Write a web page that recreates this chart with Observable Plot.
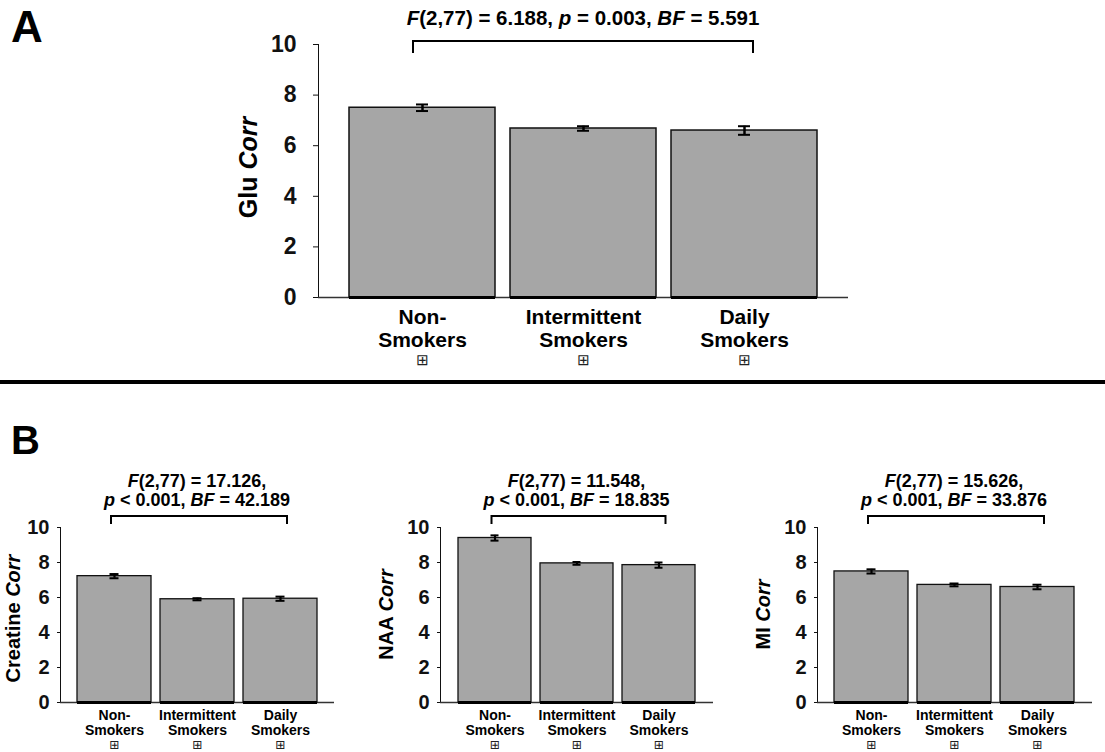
<!DOCTYPE html>
<html><head><meta charset="utf-8">
<script src="https://cdn.jsdelivr.net/npm/d3@7"></script>
<script src="https://cdn.jsdelivr.net/npm/@observablehq/plot@0.6"></script>
<style>
body{margin:0;background:#fff;}
#root{position:relative;width:1105px;height:752px;overflow:hidden;background:#fff;font-family:"Liberation Sans",Arial,Helvetica,sans-serif;}
.abs{position:absolute;}
.letter{position:absolute;font-weight:bold;color:#000;line-height:normal;}
svg text{white-space:pre;}
</style></head><body><div id="root"></div>
<script>
// ---- data ----
const groups = ["Non-Smokers", "Intermittent Smokers", "Daily Smokers"];
const groupLabels = ["Non-\nSmokers", "Intermittent\nSmokers", "Daily\nSmokers"];
const yTicks = [0, 2, 4, 6, 8, 10];
const gluMean = [7.50, 6.68, 6.60];
const gluErr  = [0.13, 0.09, 0.17];
const creMean = [7.22, 5.90, 5.93];
const creErr  = [0.12, 0.06, 0.12];
const naaMean = [9.40, 7.95, 7.85];
const naaErr  = [0.15, 0.08, 0.15];
const miMean  = [7.49, 6.72, 6.60];
const miErr   = [0.12, 0.08, 0.13];
// statistics text: [text, italic]
const gluStat = [[["F",1],["(2,77) = 6.188, ",0],["p",1],[" = 0.003, ",0],["BF",1],[" = 5.591",0]]];
const creStat = [[["F",1],["(2,77) = 17.126,",0]], [["p",1],[" < 0.001, ",0],["BF",1],[" = 42.189",0]]];
const naaStat = [[["F",1],["(2,77) = 11.548,",0]], [["p",1],[" < 0.001, ",0],["BF",1],[" = 18.835",0]]];
const miStat  = [[["F",1],["(2,77) = 15.626,",0]], [["p",1],[" < 0.001, ",0],["BF",1],[" = 33.876",0]]];
const gluTitle = [["Glu ",0],["Corr",1]];
const creTitle = [["Creatine ",0],["Corr",1]];
const naaTitle = [["NAA ",0],["Corr",1]];
const miTitle  = [["MI ",0],["Corr",1]];

const FONT = '"Liberation Sans", Arial, Helvetica, sans-serif';
const root = document.getElementById("root");

function rich(sel, segments) {
  for (const [s, it] of segments) sel.append("tspan").attr("font-style", it ? "italic" : "normal").text(s);
}

function chart(c) {
  const data = groups.map((g, i) => ({group: g, label: groupLabels[i], mean: c.mean[i], err: c.err[i]}));
  const plot = Plot.plot({
    width: c.width, height: c.height,
    marginLeft: c.ml, marginRight: c.mr, marginTop: c.mt, marginBottom: c.mb,
    style: {fontFamily: FONT, fontSize: c.tickFont + "px", fontWeight: "bold", color: "#111", background: "transparent", overflow: "visible"},
    x: {domain: groups, paddingInner: c.pi, paddingOuter: c.po, axis: null},
    y: {domain: [0, 10], ticks: yTicks, tickSize: c.tickSize, tickPadding: c.tickPadding, line: true, label: null},
    marks: [
      Plot.ruleY([0], {stroke: "#333", strokeWidth: 1.5}),
      Plot.barY(data, {x: "group", y: "mean", fill: "#a6a6a6", stroke: "#111", strokeWidth: c.barStroke}),
      Plot.tickY(data, {x: "group", y: () => 0, stroke: "#000", strokeWidth: c.barStroke + 1.5}),
      Plot.ruleX(data, {x: "group", y1: d => d.mean - d.err, y2: d => d.mean + d.err, stroke: "#000", strokeWidth: c.stem}),
      Plot.tickY(data, {x: "group", y: d => d.mean + d.err, stroke: "#000", strokeWidth: 2, insetLeft: c.capInset, insetRight: c.capInset}),
      Plot.tickY(data, {x: "group", y: d => d.mean - d.err, stroke: "#000", strokeWidth: 2, insetLeft: c.capInset, insetRight: c.capInset}),
      Plot.text(data, {x: "group", text: "label", frameAnchor: "bottom", lineAnchor: "top", dy: c.labelDy, fontSize: c.labelFont, lineHeight: c.lineHeight, fill: "#000"}),
      Plot.text(data, {x: "group", text: () => "\u229E", frameAnchor: "bottom", lineAnchor: "middle", dy: c.plusDy, fontSize: c.plusFont, fontFamily: "DejaVu Sans", fontWeight: "normal", fill: "#222"})
    ]
  });
  const svg = d3.select(plot);
  const sx = plot.scale("x"), sy = plot.scale("y");
  const center = g => sx.apply(g) + sx.bandwidth / 2;
  // significance bracket
  const x0 = center(groups[0]) - c.bl, x1 = center(groups[2]) + c.br;
  const yT = sy.apply(c.bTop), yB = sy.apply(c.bBot);
  svg.append("path").attr("d", `M${x0},${yB}V${yT}H${x1}V${yB}`)
    .attr("fill", "none").attr("stroke", "#000").attr("stroke-width", 2);
  const cx = (center(groups[0]) + center(groups[2])) / 2;
  c.stat.forEach((line, i) => {
    const t = svg.append("text").attr("x", cx).attr("y", c.statY[i]).attr("text-anchor", "middle")
      .attr("font-size", c.statFont).attr("font-weight", "bold").attr("font-family", FONT).attr("fill", "#000");
    rich(t, line);
  });
  const cy = c.mt + (c.height - c.mt - c.mb) / 2 + c.titleDy;
  const tt = svg.append("text").attr("transform", `translate(${c.ml - c.titleOff},${cy}) rotate(-90)`)
    .attr("text-anchor", "middle").attr("font-size", c.titleFont).attr("font-weight", "bold").attr("font-family", FONT).attr("fill", "#000");
  rich(tt, c.title);
  plot.style.position = "absolute";
  plot.style.left = c.left + "px";
  plot.style.top = c.top + "px";
  root.appendChild(plot);
}

// Panel A
chart({mean: gluMean, err: gluErr, stat: gluStat, title: gluTitle,
  left: 0, top: 0, width: 1105, height: 380, ml: 318, mr: 257, mt: 44, mb: 83,
  pi: 0.0926, po: 0.185,
  tickFont: 23, tickSize: 5, tickPadding: 17,
  labelFont: 21, labelDy: 10, lineHeight: 1.1, plusFont: 15, plusDy: 63,
  barStroke: 1.5, stem: 2.5, capInset: 67,
  bTop: 10.12, bBot: 9.64, bl: 9, br: 9,
  statFont: 20.5, statY: [25], titleFont: 25, titleOff: 61, titleDy: -3});

const bCommon = {top: 390, height: 362, mt: 137, mb: 50, pi: 0.108, po: 0.2,
  tickFont: 20, tickSize: 3, tickPadding: 8,
  labelFont: 14, labelDy: 7, lineHeight: 1.08, plusFont: 12.5, plusDy: 42,
  barStroke: 1.3, stem: 2.2, capInset: 32.5,
  bTop: 10.63, bBot: 10.17, bl: 3, br: 7,
  statFont: 18, statY: [97, 116], titleFont: 20, titleOff: 47, titleDy: 0};

chart({...bCommon, mean: creMean, err: creErr, stat: creStat, title: creTitle, left: 0, width: 370, ml: 60, mr: 36, titleOff: 40, titleDy: 4});
chart({...bCommon, mean: naaMean, err: naaErr, stat: naaStat, title: naaTitle, left: 370, width: 370, ml: 70, mr: 27});
chart({...bCommon, mean: miMean, err: miErr, stat: miStat, title: miTitle, left: 740, width: 365, ml: 77, mr: 13});

// panel letters and divider
function letter(txt, x, baseline, size) {
  const d = document.createElement("div");
  d.className = "letter";
  d.textContent = txt;
  d.style.fontSize = size + "px";
  d.style.left = x + "px";
  d.style.top = Math.max(0, baseline - size * 0.92) + "px";
  root.appendChild(d);
}
letter("A", 11, 42, 44);
letter("B", 11, 455, 40);
const hr = document.createElement("div");
hr.className = "abs";
hr.style.cssText = "left:0;top:380px;width:1105px;height:4px;background:#000;";
root.appendChild(hr);
</script></body></html>
